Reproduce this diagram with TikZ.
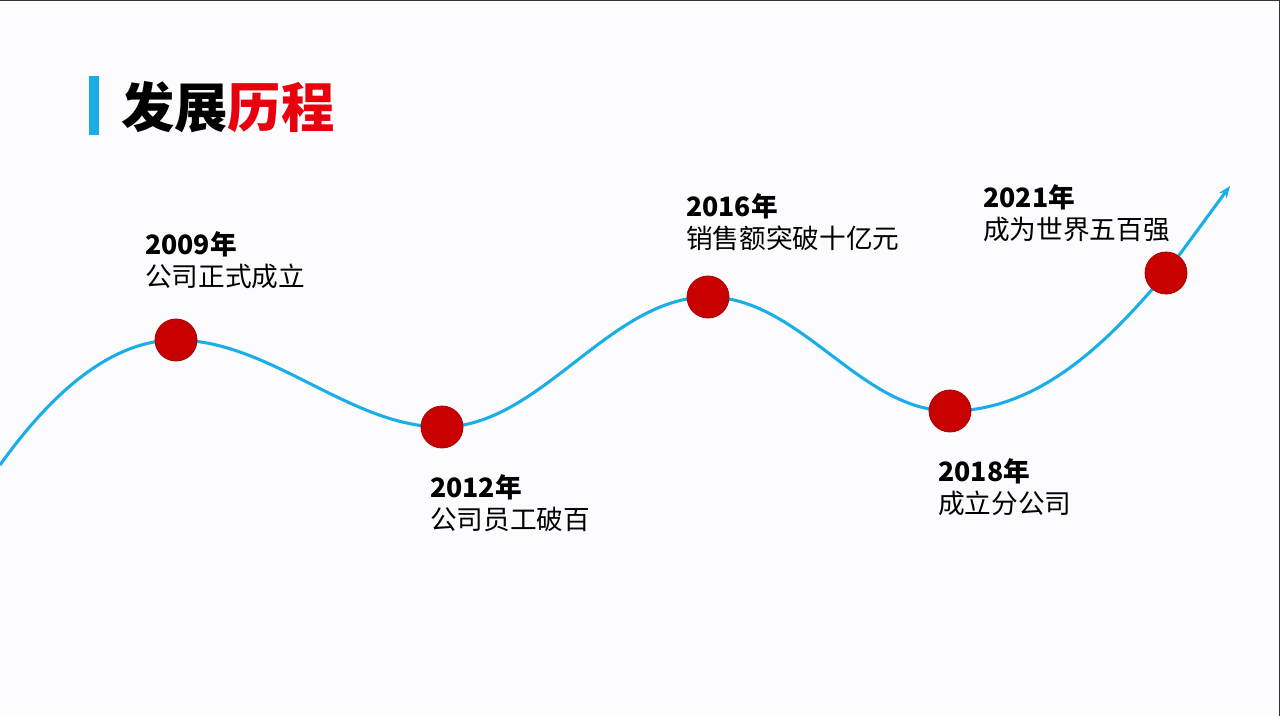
\documentclass[tikz,border=0pt]{standalone}
\usepackage{fontspec}
\setmainfont{Noto Sans CJK SC}
\usetikzlibrary{arrows.meta,backgrounds}
\definecolor{bg}{HTML}{FCFBFD}
\definecolor{lineblue}{HTML}{19AEE8}
\definecolor{dotred}{HTML}{C80000}
\definecolor{titlered}{HTML}{E8000E}
\tikzset{
  dot/.style={circle,fill=dotred,draw=dotred!85!black,line width=0.6pt,minimum size=31.5pt,inner sep=0pt},
  lbl/.style={anchor=north west,align=left,inner sep=0pt,font=\fontsize{20pt}{24pt}\selectfont,text=black},
  curve/.style={draw=lineblue,line width=2.3pt}
}
\begin{document}
\begin{tikzpicture}[x=0.75pt,y=-0.75pt]
\useasboundingbox (0,0) rectangle (1280,716);
% title
\fill[lineblue] (89,76) rectangle (99,135);
\node[anchor=west,inner sep=0pt,font=\fontsize{40pt}{48pt}\selectfont\bfseries] (title) at (121,107) {发展\textcolor{titlered}{历程}};
% dots
\node[dot] (d1) at (176,340) {};
\node[dot] (d2) at (442,427) {};
\node[dot] (d3) at (708,297) {};
\node[dot] (d4) at (950,411) {};
\node[dot] (d5) at (1166,273) {};
\coordinate (s) at (0,465);
\coordinate (e) at (1230,186);
\begin{scope}[on background layer]
\fill[bg] (0,0) rectangle (1280,716);
\draw[black!80,line width=1pt] (0,0.5) -- (1280,0.5);
\draw[black!80,line width=1pt] (1279.5,0) -- (1279.5,716);
\path[curve,-{Stealth[length=9pt,width=7pt]}] (s) .. controls (50,395) and (110,340) .. (d1.center)
  .. controls (270,340) and (350,427) .. (d2.center)
  .. controls (540,427) and (610,297) .. (d3.center)
  .. controls (800,297) and (860,411) .. (d4.center)
  .. controls (1040,411) and (1110,340) .. (d5.center)
  -- (e);
\end{scope}
% labels
\node[lbl] (l1) at (145,231) {\textbf{2009年}\\公司正式成立};
\node[lbl] (l2) at (430,474) {\textbf{2012年}\\公司员工破百};
\node[lbl] (l3) at (686,193) {\textbf{2016年}\\销售额突破十亿元};
\node[lbl] (l4) at (938,458) {\textbf{2018年}\\成立分公司};
\node[lbl] (l5) at (983,184) {\textbf{2021年}\\成为世界五百强};
\end{tikzpicture}
\end{document}
